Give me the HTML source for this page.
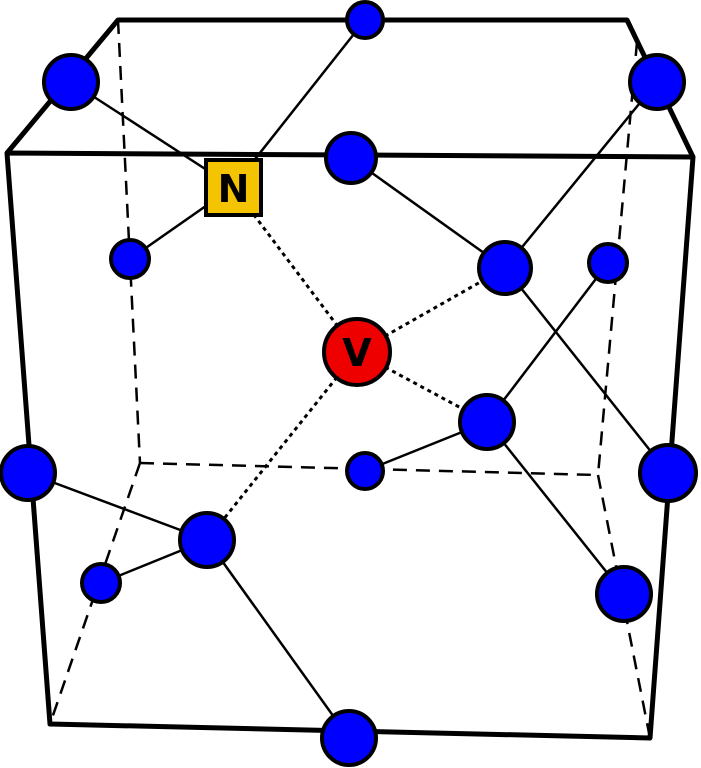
<!DOCTYPE html>
<html><head><style>html,body{margin:0;padding:0;background:#fff;}svg{display:block}</style></head>
<body>
<svg width="701" height="768" viewBox="0 0 701 768" xmlns="http://www.w3.org/2000/svg">
<g stroke="#000" stroke-width="2.5" stroke-dasharray="14,9" fill="none">
<line x1="118" y1="20" x2="140" y2="463"/>
<line x1="637" y1="42" x2="598" y2="475"/>
<line x1="140" y1="463" x2="598" y2="475"/>
<line x1="140" y1="463" x2="50" y2="724"/>
<line x1="598" y1="475" x2="650" y2="738"/>
</g>
<g stroke="#000" stroke-width="5" fill="none" stroke-linejoin="round">
<polygon points="7,153 693,157 650,738 50,724"/>
<polyline points="7,153 118,20 627,20 693,157"/>
</g>
<g stroke="#000" stroke-width="2.5">
<line x1="71" y1="82" x2="233" y2="187"/>
<line x1="365" y1="20" x2="233" y2="187"/>
<line x1="130" y1="259" x2="233" y2="187"/>
<line x1="351" y1="158" x2="505" y2="268"/>
<line x1="657" y1="82" x2="505" y2="268"/>
<line x1="505" y1="268" x2="668" y2="473"/>
<line x1="608" y1="263" x2="487" y2="422"/>
<line x1="487" y1="422" x2="365" y2="471"/>
<line x1="487" y1="422" x2="624" y2="594"/>
<line x1="28" y1="473" x2="207" y2="540"/>
<line x1="101" y1="583" x2="207" y2="540"/>
<line x1="207" y1="540" x2="349" y2="738"/>
</g>
<g stroke="#000" stroke-width="3" stroke-dasharray="4,4">
<line x1="357" y1="352" x2="233" y2="187"/>
<line x1="357" y1="352" x2="505" y2="268"/>
<line x1="357" y1="352" x2="487" y2="422"/>
<line x1="357" y1="352" x2="207" y2="540"/>
</g>
<g fill="#0000ff" stroke="#000" stroke-width="4">
<circle cx="365" cy="20" r="18"/>
<circle cx="71" cy="82" r="27"/>
<circle cx="657" cy="82" r="27"/>
<circle cx="351" cy="158" r="25"/>
<circle cx="130" cy="259" r="19"/>
<circle cx="505" cy="268" r="26"/>
<circle cx="608" cy="263" r="19"/>
<circle cx="487" cy="422" r="27"/>
<circle cx="365" cy="471" r="18"/>
<circle cx="28" cy="473" r="27"/>
<circle cx="668" cy="473" r="28"/>
<circle cx="207" cy="540" r="27"/>
<circle cx="101" cy="583" r="19"/>
<circle cx="624" cy="594" r="27"/>
<circle cx="349" cy="738" r="27"/>
</g>
<rect x="206" y="160" width="55" height="55" fill="#f5c400" stroke="#000" stroke-width="4"/>
<text x="233.5" y="202" text-anchor="middle" font-family="DejaVu Sans, sans-serif" font-weight="bold" font-size="38">N</text>
<circle cx="357" cy="352" r="33" fill="#ee0000" stroke="#000" stroke-width="4"/>
<text x="357" y="366" text-anchor="middle" font-family="DejaVu Sans, sans-serif" font-weight="bold" font-size="38">V</text>
</svg>
</body></html>
